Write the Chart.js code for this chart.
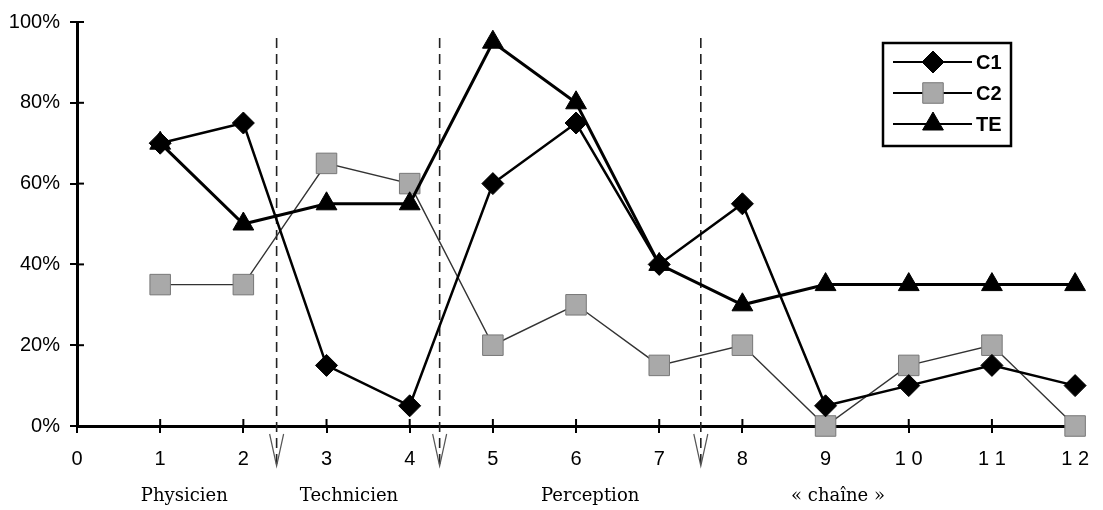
<!DOCTYPE html>
<html>
<head>
<meta charset="utf-8">
<script src="https://cdn.jsdelivr.net/npm/chart.js@4/dist/chart.umd.min.js"></script>
<style>
  html, body { margin: 0; padding: 0; background: #fff; }
  #wrap { width: 1103px; height: 510px; position: relative; }
</style>
</head>
<body>
<div id="wrap"><canvas id="chart"></canvas></div>
<script>
// data
const xValues = [1, 2, 3, 4, 5, 6, 7, 8, 9, 10, 11, 12];
const xTickLabels = ['0', '1', '2', '3', '4', '5', '6', '7', '8', '9', '1 0', '1 1', '1 2'];
const c1Values = [70, 75, 15, 5, 60, 75, 40, 55, 5, 10, 15, 10];
const c2Values = [35, 35, 65, 60, 20, 30, 15, 20, 0, 15, 20, 0];
const teValues = [70, 50, 55, 55, 95, 80, 40, 30, 35, 35, 35, 35];
const separators = [2.4, 4.36, 7.5];
const groupLabels = ['Physicien', 'Technicien', 'Perception', '« chaîne »'];
const groupCenters = [1.29, 3.27, 6.17, 9.15];

const toPoints = vals => vals.map((v, i) => ({ x: xValues[i], y: v }));

const sansFont = '"Liberation Sans", Arial, Helvetica, sans-serif';
const serifFont = '"DejaVu Serif", "Liberation Serif", serif';

// draws separators, inner tick halves, group names and the boxed legend
const decorations = {
    id: 'decorations',
    beforeDatasetsDraw(chart) {
        const ctx = chart.ctx;
        const xs = chart.scales.x, ys = chart.scales.y;
        const area = chart.chartArea;
        ctx.save();

        // inner part of the tick marks (they cross the axes)
        ctx.strokeStyle = '#000';
        ctx.lineWidth = 2;
        ys.ticks.forEach(t => {
            const py = ys.getPixelForValue(t.value);
            ctx.beginPath();
            ctx.moveTo(area.left, py);
            ctx.lineTo(area.left + 7, py);
            ctx.stroke();
        });
        xs.ticks.forEach(t => {
            const px = xs.getPixelForValue(t.value);
            ctx.beginPath();
            ctx.moveTo(px, area.bottom);
            ctx.lineTo(px, area.bottom - 7);
            ctx.stroke();
        });

        // dashed separators with open arrow heads below the axis
        separators.forEach(s => {
            const px = xs.getPixelForValue(s);
            ctx.strokeStyle = '#222';
            ctx.lineWidth = 1.6;
            ctx.setLineDash([10, 6]);
            ctx.beginPath();
            ctx.moveTo(px, area.top + 16);
            ctx.lineTo(px, area.bottom + 38);
            ctx.stroke();
            ctx.setLineDash([]);
            ctx.strokeStyle = '#555';
            ctx.lineWidth = 1.2;
            ctx.beginPath();
            ctx.moveTo(px - 7, area.bottom + 8);
            ctx.lineTo(px, area.bottom + 40);
            ctx.lineTo(px + 7, area.bottom + 8);
            ctx.stroke();
        });

        // group names under the axis
        ctx.fillStyle = '#000';
        ctx.font = '18px ' + serifFont;
        ctx.textAlign = 'center';
        ctx.textBaseline = 'middle';
        groupLabels.forEach((lbl, i) => {
            ctx.fillText(lbl, xs.getPixelForValue(groupCenters[i]), area.bottom + 70);
        });
        ctx.restore();
    },
    afterDraw(chart) {
        const ctx = chart.ctx;
        ctx.save();
        const bx = 883, by = 43, bw = 128, bh = 103;
        ctx.fillStyle = '#fff';
        ctx.fillRect(bx, by, bw, bh);
        ctx.strokeStyle = '#000';
        ctx.lineWidth = 2.5;
        ctx.strokeRect(bx, by, bw, bh);
        const rows = [62, 93, 124];
        chart.data.datasets.forEach((ds, i) => {
            const y = rows[i];
            ctx.strokeStyle = '#000';
            ctx.lineWidth = 2;
            ctx.beginPath();
            ctx.moveTo(893, y);
            ctx.lineTo(972, y);
            ctx.stroke();
            ctx.fillStyle = ds.pointBackgroundColor;
            ctx.strokeStyle = ds.pointBorderColor;
            ctx.lineWidth = ds.pointBorderWidth;
            Chart.helpers.drawPoint(ctx, {
                pointStyle: ds.pointStyle,
                radius: ds.pointRadius,
                rotation: 0,
                borderWidth: ds.pointBorderWidth
            }, 933, y);
            ctx.fillStyle = '#000';
            ctx.font = 'bold 20px ' + sansFont;
            ctx.textAlign = 'left';
            ctx.textBaseline = 'middle';
            ctx.fillText(ds.label, 976, y + 1);
        });
        ctx.restore();
    }
};

const ctx = document.getElementById('chart').getContext('2d');
window.resultChart = new Chart(ctx, {
    type: 'line',
    data: {
        datasets: [
            {
                label: 'C1',
                data: toPoints(c1Values),
                borderColor: '#000',
                borderWidth: 2.5,
                pointStyle: 'rectRot',
                pointRadius: 11,
                pointBackgroundColor: '#000',
                pointBorderColor: '#000',
                pointBorderWidth: 1,
                clip: false,
                order: 2
            },
            {
                label: 'C2',
                data: toPoints(c2Values),
                borderColor: '#333',
                borderWidth: 1.4,
                pointStyle: 'rect',
                pointRadius: 14.5,
                pointBackgroundColor: '#a9a9a9',
                pointBorderColor: '#777',
                pointBorderWidth: 1,
                clip: false,
                order: 3
            },
            {
                label: 'TE',
                data: toPoints(teValues),
                borderColor: '#000',
                borderWidth: 3,
                pointStyle: 'triangle',
                pointRadius: 12,
                pointBackgroundColor: '#000',
                pointBorderColor: '#000',
                pointBorderWidth: 1,
                clip: false,
                order: 1
            }
        ]
    },
    options: {
        responsive: true,
        maintainAspectRatio: false,
        animation: false,
        layout: { padding: { top: 20, right: 24, left: 0, bottom: 0 } },
        plugins: {
            legend: { display: false },
            tooltip: { enabled: false }
        },
        elements: { line: { tension: 0 } },
        scales: {
            x: {
                type: 'linear',
                min: 0,
                max: 12,
                afterFit: s => { s.height = 84; },
                ticks: {
                    stepSize: 1,
                    color: '#000',
                    font: { size: 20, family: sansFont },
                    padding: 14,
                    maxRotation: 0,
                    callback: v => xTickLabels[v]
                },
                grid: { drawOnChartArea: false, color: '#000', lineWidth: 2, tickLength: 7 },
                border: { color: '#000', width: 3 }
            },
            y: {
                min: 0,
                max: 100,
                afterFit: s => { s.width = 77; },
                ticks: {
                    stepSize: 20,
                    color: '#000',
                    font: { size: 20, family: sansFont },
                    padding: 10,
                    callback: v => v + '%'
                },
                grid: { drawOnChartArea: false, color: '#000', lineWidth: 2, tickLength: 7 },
                border: { color: '#000', width: 3 }
            }
        }
    },
    plugins: [decorations]
});
</script>
</body>
</html>
